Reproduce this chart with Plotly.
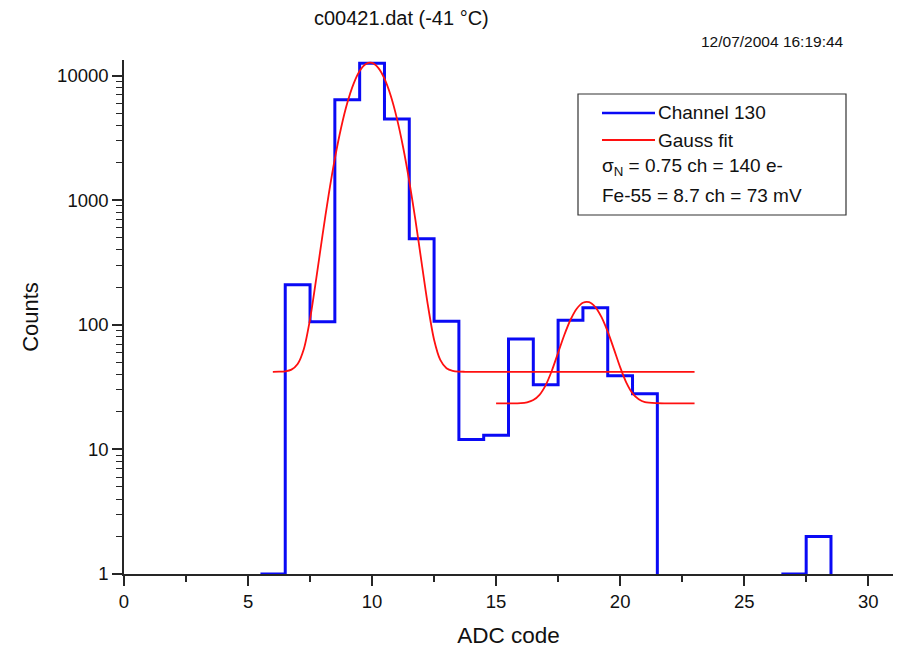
import plotly.graph_objects as go

# ---------------- data ----------------
bin_centers = list(range(6, 29))
counts = [1, 210, 106, 6400, 12600, 4500, 490, 107, 12, 13, 77, 33, 109, 137, 39, 28,
          0, 0, 0, 0, 0, 1, 2]

fit1_x = [6.0, 6.25, 6.5, 6.75, 7.0, 7.25, 7.5, 7.75, 8.0, 8.25, 8.5, 8.75, 9.0, 9.25, 9.5,
          9.75, 10.0, 10.25, 10.5, 10.75, 11.0, 11.25, 11.5, 11.75, 12.0, 12.25, 12.5, 12.75,
          13.0, 13.25, 13.5, 13.75, 14.0, 23.0]
fit1_y = [42.0, 42.1, 42.4, 43.7, 48.5, 64, 111, 235, 521, 1107, 2158, 3804, 6028, 8564, 10899,
          12420, 12670, 11570, 9460, 6928, 4546, 2679, 1423, 689, 313, 144, 76, 52.3,
          44.8, 42.7, 42.1, 42.0, 42.0, 42.0]

fit2_x = [15.0, 15.5, 16.0, 16.25, 16.5, 16.75, 17.0, 17.25, 17.5, 17.75, 18.0, 18.25, 18.5,
          18.75, 19.0, 19.25, 19.5, 19.75, 20.0, 20.25, 20.5, 20.75, 21.0, 21.5, 22.0, 23.0]
fit2_y = [23.4, 23.4, 23.5, 23.9, 24.9, 27.4, 32.8, 43.0, 59.7, 82.9, 109.9, 134.8, 150.6,
          152.1, 138.9, 115.3, 88.1, 63.9, 45.8, 34.4, 28.2, 25.3, 24.0, 23.5, 23.4, 23.4]

x_tickvals = [0, 5, 10, 15, 20, 25, 30]
y_tickvals = [1, 10, 100, 1000, 10000]
y_ticktext = ["1", "10", "100", "1000", "10000"]

title_text = "c00421.dat (-41 °C)"
date_text = "12/07/2004 16:19:44"
legend_lines = ["Channel 130", "Gauss fit",
                "σ<sub>N</sub> = 0.75 ch = 140 e-", "Fe-55 = 8.7 ch = 73 mV"]

# ---------------- layout constants ----------------
W, H = 897, 649
L, R, T, B = 124, 4, 60, 75
PW, PH = W - L - R, H - T - B
Y_FLOOR = 1  # bottom of log axis
X_RANGE = [0, 31]
Y_RANGE_LOG = [0, 4.126]
BLUE = "#0a0af5"
RED = "#ff1010"
AX = "#262626"
FONT = "Liberation Sans, Arial, sans-serif"


def px(xp):
    return (xp - L) / PW


def py(yp):
    return (H - B - yp) / PH


# build histogram step path (bins of width 1 centred on integer codes)
hx, hy = [], []
prev = 0
for i, (c, v) in enumerate(zip(bin_centers, counts)):
    left, right = c - 0.5, c + 0.5
    if v > 0:
        if prev == 0:
            if hx:
                hx.append(None); hy.append(None)
            hx.append(left); hy.append(Y_FLOOR)
        hx += [left, right]
        hy += [v, v]
        nxt = counts[i + 1] if i + 1 < len(counts) else 0
        if nxt == 0:
            hx.append(right); hy.append(Y_FLOOR)
    prev = v

fig = go.Figure()
fig.add_trace(go.Scatter(x=hx, y=hy, mode="lines", line=dict(color=BLUE, width=3),
                         connectgaps=False, name="Channel 130", hoverinfo="skip"))
fig.add_trace(go.Scatter(x=fit1_x, y=fit1_y, mode="lines",
                         line=dict(color=RED, width=1.8, shape="spline", smoothing=0.8),
                         name="Gauss fit"))
fig.add_trace(go.Scatter(x=fit2_x, y=fit2_y, mode="lines",
                         line=dict(color=RED, width=1.8, shape="spline", smoothing=0.8),
                         name="Gauss fit 2"))

shapes = [
    dict(type="rect", xref="paper", yref="paper", x0=px(578), x1=px(846), y0=py(215), y1=py(94),
         line=dict(color="#333333", width=1.2), fillcolor="white", layer="above"),
    dict(type="line", xref="paper", yref="paper", x0=px(602), x1=px(655), y0=py(113), y1=py(113),
         line=dict(color=BLUE, width=2.5)),
    dict(type="line", xref="paper", yref="paper", x0=px(602), x1=px(655), y0=py(140), y1=py(140),
         line=dict(color=RED, width=1.8)),
]

LFS = 19
annotations = [
    dict(text=title_text, x=px(401), y=py(18), xref="paper", yref="paper", showarrow=False,
         xanchor="center", yanchor="middle", font=dict(size=20, color="#111")),
    dict(text=date_text, x=px(772), y=py(42), xref="paper", yref="paper", showarrow=False,
         xanchor="center", yanchor="middle", font=dict(size=15.5, color="#111")),
    dict(text=legend_lines[0], x=px(656), y=py(113), xref="paper", yref="paper", showarrow=False,
         xanchor="left", yanchor="middle", font=dict(size=LFS, color="#111")),
    dict(text=legend_lines[1], x=px(656), y=py(140), xref="paper", yref="paper", showarrow=False,
         xanchor="left", yanchor="middle", font=dict(size=LFS, color="#111")),
    dict(text=legend_lines[2], x=px(600), y=py(167), xref="paper", yref="paper", showarrow=False,
         xanchor="left", yanchor="middle", font=dict(size=LFS, color="#111")),
    dict(text=legend_lines[3], x=px(600), y=py(196), xref="paper", yref="paper", showarrow=False,
         xanchor="left", yanchor="middle", font=dict(size=LFS, color="#111")),
]

fig.update_layout(
    width=W, height=H,
    margin=dict(l=L, r=R, t=T, b=B, pad=0),
    paper_bgcolor="white", plot_bgcolor="white",
    font=dict(family=FONT, color="#111"),
    showlegend=False,
    shapes=shapes, annotations=annotations,
    xaxis=dict(range=X_RANGE, tickvals=x_tickvals, showgrid=False, zeroline=False,
               showline=True, linecolor=AX, linewidth=1.5,
               ticks="outside", ticklen=10, tickwidth=1.5, tickcolor=AX,
               tickfont=dict(size=18.5),
               minor=dict(dtick=2.5, ticks="outside", ticklen=6, tickwidth=1.5, tickcolor=AX),
               title=dict(text="ADC code", font=dict(size=22.5), standoff=16)),
    yaxis=dict(type="log", range=Y_RANGE_LOG, tickvals=y_tickvals, ticktext=y_ticktext,
               showgrid=False, zeroline=False, showline=True, linecolor=AX, linewidth=1.5,
               ticks="outside", ticklen=10, tickwidth=1.5, tickcolor=AX,
               tickfont=dict(size=18.5),
               minor=dict(dtick="D1", ticks="outside", ticklen=6, tickwidth=1.2, tickcolor=AX),
               title=dict(text="Counts", font=dict(size=22), standoff=12)),
)

fig.write_html("out.html")
